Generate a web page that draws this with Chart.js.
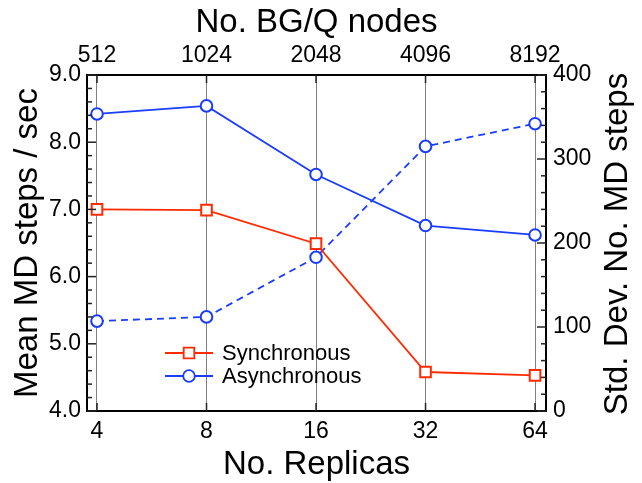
<!DOCTYPE html>
<html><head><meta charset="utf-8">
<script src="https://cdn.jsdelivr.net/npm/chart.js@4/dist/chart.umd.min.js"></script>
<style>html,body{margin:0;padding:0;background:#fff;}#wrap{width:642px;height:483px;}</style>
</head><body><div id="wrap"><canvas id="c" width="642" height="483"></canvas></div>
<script>
const replicas = ['4', '8', '16', '32', '64'];
const nodes = ['512', '1024', '2048', '4096', '8192'];
const syncMean = [7.00, 6.99, 6.49, 4.58, 4.53];
const asyncMean = [8.42, 8.54, 7.52, 6.76, 6.62];
const asyncStd = [107, 112, 183, 315, 342];
const leftLabels = [4, 5, 6, 7, 8, 9];
const rightLabels = [0, 100, 200, 300, 400];
const leftStep = 0.2;
const rightStep = 20;

const FONT = "'Liberation Sans', Arial, Helvetica, sans-serif";
const RED = '#ff2a00';
const BLUE = '#1a3cff';

function pts(arr) { return arr.map((v, i) => ({x: i, y: v})); }
function stepTicks(min, max, step) {
  const out = [];
  const n = Math.round((max - min) / step);
  for (let k = 0; k <= n; k++) out.push({value: +(min + k * step).toFixed(6)});
  return out;
}
function isIn(list, v) { return list.some(l => Math.abs(l - v) < 1e-6); }

const tickPlugin = {
  id: 'innerTicks',
  afterDraw(chart) {
    const ctx = chart.ctx, a = chart.chartArea;
    ctx.save();
    ctx.strokeStyle = '#222';
    ctx.lineWidth = 1.5;
    const y = chart.scales.y, y2 = chart.scales.y2, x = chart.scales.x, x2 = chart.scales.x2;
    y.ticks.forEach(t => {
      const p = y.getPixelForValue(t.value);
      const len = isIn(leftLabels, t.value) ? 9 : 5;
      ctx.beginPath(); ctx.moveTo(a.left, p); ctx.lineTo(a.left + len, p); ctx.stroke();
    });
    y2.ticks.forEach(t => {
      const p = y2.getPixelForValue(t.value);
      const len = isIn(rightLabels, t.value) ? 9 : 5;
      ctx.beginPath(); ctx.moveTo(a.right, p); ctx.lineTo(a.right - len, p); ctx.stroke();
    });
    x.ticks.forEach(t => {
      const p = x.getPixelForValue(t.value);
      ctx.beginPath(); ctx.moveTo(p, a.bottom); ctx.lineTo(p, a.bottom - 8); ctx.stroke();
    });
    x2.ticks.forEach(t => {
      const p = x2.getPixelForValue(t.value);
      ctx.beginPath(); ctx.moveTo(p, a.top); ctx.lineTo(p, a.top + 8); ctx.stroke();
    });
    // right axis title (reads bottom-to-top)
    ctx.fillStyle = '#000';
    ctx.font = '33px ' + FONT;
    ctx.textAlign = 'center';
    ctx.textBaseline = 'middle';
    ctx.translate(618, (a.top + a.bottom) / 2 + 1);
    ctx.rotate(-Math.PI / 2);
    ctx.fillText('Std. Dev. No. MD steps', 0, 0);
    ctx.restore();

    // legend
    ctx.save();
    const items = [0, 1];
    items.forEach((di, k) => {
      const ds = chart.data.datasets[di];
      const ry = 353 + k * 23;
      ctx.strokeStyle = ds.borderColor;
      ctx.lineWidth = ds.borderWidth;
      ctx.setLineDash([]);
      ctx.beginPath(); ctx.moveTo(165, ry); ctx.lineTo(213, ry); ctx.stroke();
      ctx.fillStyle = ds.pointBackgroundColor;
      Chart.helpers.drawPoint(ctx, {pointStyle: ds.pointStyle, radius: ds.pointRadius, rotation: 0, borderWidth: ds.pointBorderWidth}, 189, ry);
      ctx.fillStyle = '#000';
      ctx.font = '22px ' + FONT;
      ctx.textAlign = 'left';
      ctx.textBaseline = 'middle';
      ctx.fillText(ds.label, 222, ry + 1);
    });
    ctx.restore();
  }
};

const commonX = {
  type: 'linear', min: -0.0913, max: 4.1,
  afterBuildTicks: s => { s.ticks = replicas.map((_, i) => ({value: i})); },
  border: {display: true, color: '#000', width: 2}
};

new Chart(document.getElementById('c'), {
  type: 'line',
  data: {
    datasets: [
      {label: 'Synchronous', data: pts(syncMean), xAxisID: 'x', yAxisID: 'y',
        borderColor: RED, backgroundColor: '#fff', pointBackgroundColor: '#fff', pointBorderColor: RED,
        pointStyle: 'rect', pointRadius: 7.5, pointBorderWidth: 2, borderWidth: 1.8, tension: 0},
      {label: 'Asynchronous', data: pts(asyncMean), xAxisID: 'x', yAxisID: 'y',
        borderColor: BLUE, backgroundColor: '#fff', pointBackgroundColor: '#fff', pointBorderColor: BLUE,
        pointStyle: 'circle', pointRadius: 5.8, pointBorderWidth: 2, borderWidth: 1.8, tension: 0},
      {label: 'Asynchronous (std. dev.)', data: pts(asyncStd), xAxisID: 'x', yAxisID: 'y2',
        borderColor: BLUE, backgroundColor: '#fff', pointBackgroundColor: '#fff', pointBorderColor: BLUE,
        pointStyle: 'circle', pointRadius: 5.8, pointBorderWidth: 2, borderWidth: 1.8, borderDash: [7, 5], tension: 0}
    ]
  },
  options: {
    responsive: false, animation: false, devicePixelRatio: 1,
    layout: {padding: 0},
    plugins: {legend: {display: false}, tooltip: {enabled: false}},
    scales: {
      x: Object.assign({}, commonX, {
        position: 'bottom',
        ticks: {callback: v => replicas[v], font: {size: 23, family: FONT}, color: '#000', padding: 7, autoSkip: false, maxRotation: 0},
        grid: {display: true, color: '#808080', lineWidth: 1, drawTicks: false},
        title: {display: true, text: 'No. Replicas', color: '#000', font: {size: 33, family: FONT, lineHeight: 1}, padding: {top: 0, bottom: 1.5}},
        afterFit: s => { s.height = 72; }
      }),
      x2: Object.assign({}, commonX, {
        position: 'top',
        afterBuildTicks: s => { s.ticks = nodes.map((_, i) => ({value: i})); },
        ticks: {callback: v => nodes[v], font: {size: 23, family: FONT}, color: '#000', padding: 6, autoSkip: false, maxRotation: 0},
        grid: {display: false, drawTicks: false},
        title: {display: true, text: 'No. BG/Q nodes', color: '#000', font: {size: 33, family: FONT, lineHeight: 1}, padding: {top: 6, bottom: 0}},
        afterFit: s => { s.height = 75; }
      }),
      y: {
        type: 'linear', position: 'left', min: 4, max: 9,
        afterBuildTicks: s => { s.ticks = stepTicks(4, 9, leftStep); },
        ticks: {callback: v => isIn(leftLabels, v) ? v.toFixed(1) : '', font: {size: 23, family: FONT}, color: '#000', padding: 6, autoSkip: false},
        grid: {display: false, drawTicks: false},
        border: {display: true, color: '#000', width: 2},
        title: {display: true, text: 'Mean MD steps / sec', color: '#000', font: {size: 33, family: FONT, lineHeight: 1}, padding: {top: 11.5, bottom: 0}},
        afterFit: s => { s.width = 87; }
      },
      y2: {
        type: 'linear', position: 'right', min: 0, max: 400,
        afterBuildTicks: s => { s.ticks = stepTicks(0, 400, rightStep); },
        ticks: {callback: v => isIn(rightLabels, v) ? String(v) : '', font: {size: 23, family: FONT}, color: '#000', padding: 7, autoSkip: false},
        grid: {display: false, drawTicks: false},
        border: {display: true, color: '#000', width: 2},
        afterFit: s => { s.width = 96; }
      }
    }
  },
  plugins: [tickPlugin]
});
</script></body></html>
